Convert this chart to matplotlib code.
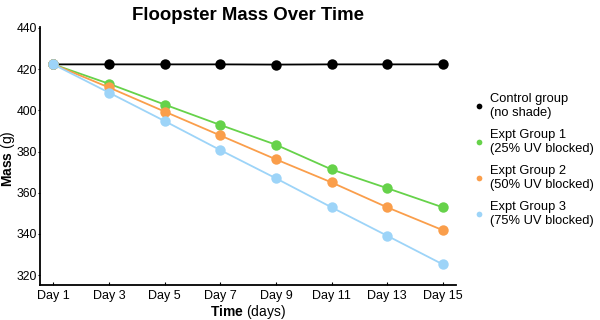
import matplotlib.pyplot as plt

plt.rcParams['font.family'] = ['Liberation Sans', 'DejaVu Sans']
plt.rcParams['mathtext.fontset'] = 'custom'
plt.rcParams['mathtext.rm'] = 'Liberation Sans'
plt.rcParams['mathtext.bf'] = 'Liberation Sans:bold'

days = [1, 3, 5, 7, 9, 11, 13, 15]
day_labels = ['Day %d' % d for d in days]

control = [422.3, 422.3, 422.3, 422.3, 422.2, 422.3, 422.3, 422.3]
group1 = [422.3, 412.9, 402.8, 392.9, 383.3, 371.3, 362.2, 352.9]
group2 = [422.3, 411.1, 399.4, 387.8, 376.2, 365.0, 352.9, 341.8]
group3 = [422.3, 408.6, 394.8, 380.7, 367.0, 352.9, 339.1, 325.2]

series = [control, group1, group2, group3]
names = ['Control group\n(no shade)', 'Expt Group 1\n(25% UV blocked)',
         'Expt Group 2\n(50% UV blocked)', 'Expt Group 3\n(75% UV blocked)']
colors = ['#000000', '#66d24a', '#fa9e4b', '#9dd4f8']

fig = plt.figure(figsize=(6, 3.2), dpi=100)
ax = fig.add_axes([0.067, 0.108, 0.693, 0.808])

for vals, name, c in zip(series, names, colors):
    ax.plot(days, vals, color=c, lw=1.3, marker='o', markersize=7.5,
            markeredgewidth=0, label=name)

ax.set_xlim(0.53, 15.47)
ax.set_ylim(315, 440.5)
ax.set_xticks(days)
ax.set_xticklabels(day_labels)
ax.set_yticks([320, 340, 360, 380, 400, 420, 440])
ax.tick_params(axis='x', direction='in', length=2, labelsize=9, pad=3)
ax.tick_params(axis='y', direction='out', length=1.8, labelsize=8.7, pad=0.6)
for s in ['top', 'right']:
    ax.spines[s].set_visible(False)
for s in ['left', 'bottom']:
    ax.spines[s].set_linewidth(1.3)

ax.set_xlabel(r'$\mathbf{Time}$ (days)', fontsize=10, labelpad=1)
ax.set_ylabel(r'$\mathbf{Mass}$ (g)', fontsize=10)
ax.yaxis.set_label_coords(-0.055, 0.49)
ax.set_title('Floopster Mass Over Time', fontsize=13.4, fontweight='bold', pad=5)

leg = fig.legend(loc='center left', bbox_to_anchor=(0.77, 0.5),
                 frameon=False, fontsize=9.3, markerscale=0.55, handlelength=0.8,
                 handletextpad=0.5, labelspacing=0.78)
for line in leg.get_lines():
    line.set_linestyle('none')

fig.savefig('out.png', dpi=100)
